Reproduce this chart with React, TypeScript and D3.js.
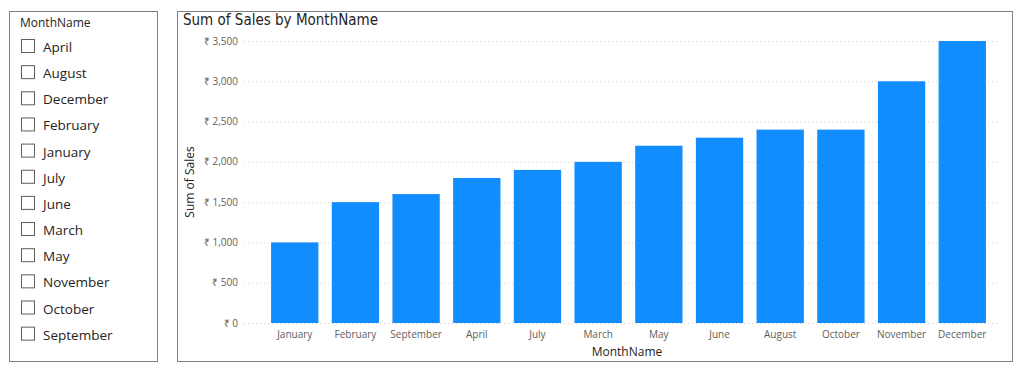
import React from "react";
import * as d3 from "d3";

const months = ["January","February","September","April","July","March","May","June","August","October","November","December"];
const sales = [1000,1500,1600,1800,1900,2000,2200,2300,2400,2400,3000,3500];
const yTicks = [0,500,1000,1500,2000,2500,3000,3500];
const slicerItems = ["April","August","December","February","January","July","June","March","May","November","October","September"];

export default function App() {
  const W = 1024, H = 372;
  const x = d3.scaleBand().domain(months).range([265, 992]).paddingInner(0.22).paddingOuter(0.1);
  const y = d3.scaleLinear().domain([0, 3500]).range([323, 41]);
  const fmt = (v: number) => "₹ " + d3.format(",")(v);
  const font = "'Segoe UI', 'Open Sans', sans-serif";
  return (
    <svg width={W} height={H} style={{ position: "absolute", left: 0, top: 0, background: "#fff" }} fontFamily={font}>
      {/* slicer */}
      <rect x={9.5} y={11.5} width={148} height={350} fill="#fff" stroke="#808080" strokeWidth={1} />
      <text x={20} y={27} fontSize={12} fill="#252423">MonthName</text>
      {slicerItems.map((m, i) => (
        <g key={m}>
          <rect x={21.5} y={39.5 + i * 26.15} width={13} height={13} fill="#fff" stroke="#605E5C" strokeWidth={1} />
          <text x={43} y={52 + i * 26.15} fontSize={13.5} fill="#252423">{m}</text>
        </g>
      ))}
      {/* chart */}
      <rect x={177.5} y={11.5} width={835} height={350} fill="#fff" stroke="#808080" strokeWidth={1} />
      <text x={183} y={25} fontSize={15} fill="#252423" fontFamily="'DejaVu Sans Condensed', 'Roboto', sans-serif">Sum of Sales by MonthName</text>
      {yTicks.map(t => (
        <g key={t}>
          <line x1={244} x2={1000} y1={y(t) + 0.5} y2={y(t) + 0.5} stroke="#D0D0D0" strokeDasharray="1,3" />
          <text x={238} y={y(t)} dy="0.35em" textAnchor="end" fontSize={10} fill="#605E5C">{fmt(t)}</text>
        </g>
      ))}
      {months.map((m, i) => (
        <rect key={m} x={x(m)} y={y(sales[i])} width={x.bandwidth()} height={y(0) - y(sales[i])} fill="#118DFF" />
      ))}
      {months.map(m => (
        <text key={m} x={(x(m) as number) + x.bandwidth() / 2} y={338} textAnchor="middle" fontSize={10} fill="#605E5C">{m}</text>
      ))}
      <text x={627} y={356} textAnchor="middle" fontSize={12} fill="#252423">MonthName</text>
      <text transform={`translate(194,182) rotate(-90)`} textAnchor="middle" fontSize={12} fill="#252423">Sum of Sales</text>
    </svg>
  );
}
